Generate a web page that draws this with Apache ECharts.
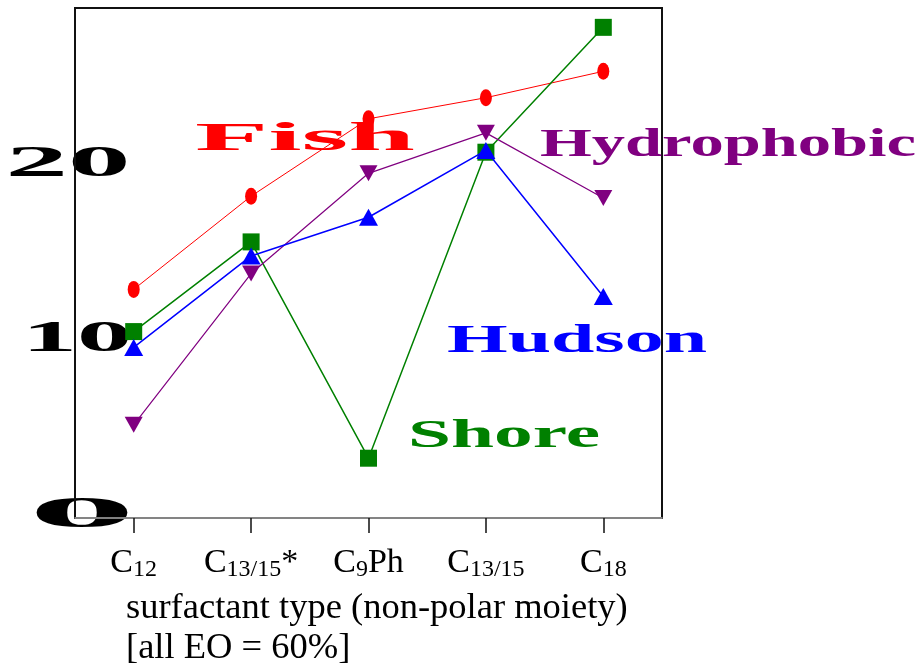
<!DOCTYPE html>
<html>
<head>
<meta charset="utf-8">
<script src="https://cdn.jsdelivr.net/npm/echarts@6/dist/echarts.min.js"></script>
<style>
  html, body { margin: 0; padding: 0; background: #fff; }
  #chart { width: 920px; height: 664px; }
</style>
</head>
<body>
<div id="chart"></div>
<script>
// Surfactant types along the x axis
const categories = ['C12', 'C13/15*', 'C9Ph', 'C13/15', 'C18'];

// Series values per surfactant type
const fishValues   = [13.0, 18.3, 22.7, 23.9, 25.4];
const shoreValues  = [10.6, 15.7, 3.4, 20.8, 27.9];
const hudsonValues = [9.7, 14.9, 17.1, 20.9, 12.6];
const hydroValues  = [5.3, 13.9, 19.6, 21.9, 18.2];

// Y tick labels
const yTickValues = [0, 10, 20];

const seriesNames = ['Fish', 'Shore', 'Hydrophobic', 'Hudson'];

const SERIF = '"Liberation Serif", "DejaVu Serif", serif';

const chart = echarts.init(document.getElementById('chart'), null, { renderer: 'canvas' });

// "C13/15*" -> C with subscript digits, trailing marks at normal size
function catLabel(name) {
  const m = name.match(/^C(\d+(?:\/\d+)?)(.*)$/);
  if (!m) return '{c|' + name + '}';
  return '{c|C}{s|' + m[1] + '}' + (m[2] ? '{c|' + m[2] + '}' : '');
}

chart.setOption({
  animation: false,
  backgroundColor: '#ffffff',
  title: {
    text: 'surfactant type (non-polar moiety)\n[all EO = 60%]',
    left: 121,
    top: 583,
    textStyle: { fontFamily: SERIF, fontSize: 36.5, fontWeight: 'normal', color: '#000', lineHeight: 40 }
  },
  grid: {
    left: 75, right: 258, top: 8, bottom: 146,
    show: true, borderColor: '#111', borderWidth: 2, backgroundColor: 'transparent'
  },
  xAxis: {
    type: 'category',
    data: categories,
    boundaryGap: true,
    axisLine: { show: true, lineStyle: { color: '#aaa', width: 1.5 } },
    axisTick: { show: true, alignWithLabel: true, inside: false, length: 15, lineStyle: { color: '#111', width: 1.5 } },
    axisLabel: {
      interval: 0,
      margin: 27,
      formatter: catLabel,
      rich: {
        c: { fontFamily: SERIF, fontSize: 34, color: '#000', lineHeight: 36, verticalAlign: 'middle' },
        s: { fontFamily: SERIF, fontSize: 24, color: '#000', lineHeight: 36, verticalAlign: 'middle', padding: [13, 0, 0, 0] }
      }
    },
    splitLine: { show: false }
  },
  yAxis: {
    type: 'value',
    min: 0,
    max: 29,
    interval: 10,
    axisLine: { show: true, lineStyle: { color: '#111', width: 2 } },
    axisTick: { show: false },
    axisLabel: { show: false },
    splitLine: { show: false }
  },
  series: [
    {
      name: seriesNames[0], type: 'line', data: fishValues,
      symbol: 'circle', symbolSize: [12, 17],
      lineStyle: { color: '#ff0000', width: 1 },
      itemStyle: { color: '#ff0000' }, z: 2
    },
    {
      name: seriesNames[1], type: 'line', data: shoreValues,
      symbol: 'rect', symbolSize: 17,
      lineStyle: { color: '#008000', width: 1.5 },
      itemStyle: { color: '#008000' }, z: 3
    },
    {
      name: seriesNames[2], type: 'line', data: hydroValues,
      symbol: 'triangle', symbolRotate: 180, symbolSize: [18, 16],
      lineStyle: { color: '#800080', width: 1.2 },
      itemStyle: { color: '#800080' }, z: 4
    },
    {
      name: seriesNames[3], type: 'line', data: hudsonValues,
      symbol: 'triangle', symbolSize: [19, 17],
      lineStyle: { color: '#0000ff', width: 1.5 },
      itemStyle: { color: '#0000ff' }, z: 5
    }
  ]
});

// Horizontally stretched text drawn as graphic elements
const measureCtx = document.createElement('canvas').getContext('2d');
function stretched(text, font, cx, cy, targetW, color, z) {
  measureCtx.font = font;
  const w = measureCtx.measureText(text).width;
  return {
    type: 'text', x: cx, y: cy, scaleX: targetW / w, z: z, silent: true,
    style: { text: text, font: font, fill: color, textAlign: 'center', textVerticalAlign: 'middle' }
  };
}

const tickFont = 'bold 44px ' + SERIF;
const labelFont = 'bold 40px ' + SERIF;
const tickWidths = { 0: 107, 10: 110, 20: 125 };
const tickCenters = { 0: 82, 10: 77, 20: 68 };

const graphics = [];
yTickValues.forEach(function (v) {
  const py = chart.convertToPixel({ yAxisIndex: 0 }, v);
  graphics.push(stretched(String(v), tickFont, tickCenters[v], py - 2, tickWidths[v], '#000', 0));
});

graphics.push(stretched(seriesNames[0], labelFont, 305, 140, 220, '#ff0000', 1));
graphics.push(stretched(seriesNames[2], labelFont, 728, 146, 376, '#800080', 1));
graphics.push(stretched(seriesNames[3], labelFont, 577, 342, 260, '#0000ff', 1));
graphics.push(stretched(seriesNames[1], labelFont, 504, 437, 192, '#008000', 1));

chart.setOption({ graphic: graphics });
</script>
</body>
</html>
